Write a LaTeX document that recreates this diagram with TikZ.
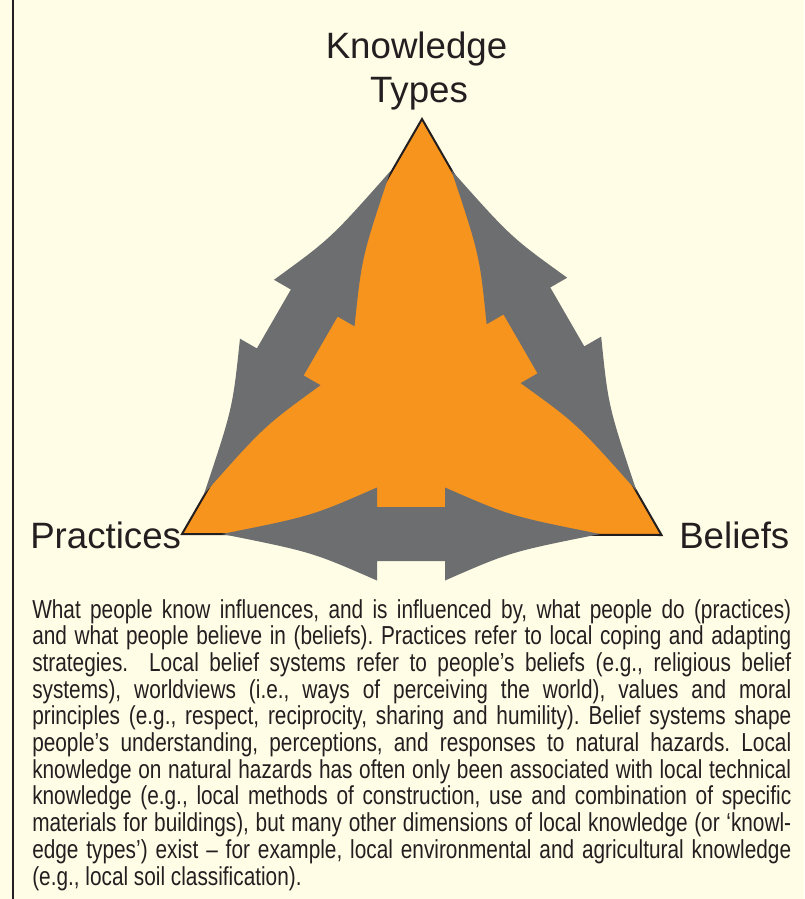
\documentclass[tikz,border=0pt]{standalone}
\usepackage{fontspec}
\setmainfont{Liberation Sans}
\newfontfamily\bodyfont[FakeStretch=0.80]{Liberation Sans}
\definecolor{bgcream}{HTML}{FFFDE6}
\definecolor{korange}{HTML}{F7941E}
\definecolor{kgray}{HTML}{6D6E70}
\definecolor{kink}{HTML}{231F20}
\newcommand{\kdblarrow}[3]{% start, angle, length
  \pgfmathsetmacro\kLh{(#3-68)/2}%
  \pgfmathsetmacro\kLc{0.58*\kLh}%
  \pgfmathsetmacro\kLs{\kLh+68}%
  \pgfmathsetmacro\kLcc{#3-0.58*\kLh}%
  \fill[arrowfill, shift={#1}, rotate=#2]
    (0,0) .. controls (\kLc,18) .. (\kLh,46.5) -- (\kLh,27) -- (\kLs,27) -- (\kLs,46.5)
    .. controls (\kLcc,18) .. (#3,0) .. controls (\kLcc,-18) .. (\kLs,-46.5)
    -- (\kLs,-27) -- (\kLh,-27) -- (\kLh,-46.5) .. controls (\kLc,-18) .. (0,0) -- cycle;
}
\tikzset{
  arrowfill/.style={fill=kgray},
  lab/.style={inner sep=0pt, text=kink, font=\fontsize{27.5}{32}\selectfont},
  bodyline/.style={inner sep=0pt, anchor=base west, text=kink, font=\bodyfont\fontsize{19.5}{21}\selectfont\frenchspacing},
  frameline/.style={draw=kink, line width=1.4pt}
}
\begin{document}
\begin{tikzpicture}[x=0.75pt,y=0.75pt]
\useasboundingbox (0,0) rectangle (804,-899);
\fill[bgcream] (0,0) rectangle (804,-899);
\draw[frameline] (13,-899) -- (13,0);

\coordinate (T) at (422,-119);
\coordinate (BL) at (182,-534);
\coordinate (BR) at (661.5,-535);
\filldraw[fill=korange, draw=kink, line width=1.5pt, line join=miter] (T) -- (BL) -- (BR) -- cycle;

\kdblarrow{(204,-494)}{60}{373}
\kdblarrow{(451.4,-170.2)}{-60}{370}
\kdblarrow{(222,-534)}{0}{378}

\node[lab, anchor=base] (kt1) at (416.5,-58.5) {Knowledge};
\node[lab, anchor=base] (kt2) at (419,-103) {Types};
\node[lab, anchor=base west] (pr) at (30,-548) {Practices};
\node[lab, anchor=base west] (be) at (679,-548) {Beliefs};

\node[bodyline] (l1) at (32,-618) {\makebox[569.25pt][s]{What people know influences, and is influenced by, what people do (practices)}};
\node[bodyline] (l2) at (32,-644.7) {\makebox[569.25pt][s]{and what people believe in (beliefs). Practices refer to local coping and adapting}};
\node[bodyline] (l3) at (32,-671.4) {\makebox[569.25pt][s]{strategies.~~Local belief systems refer to people’s beliefs (e.g., religious belief}};
\node[bodyline] (l4) at (32,-698.1) {\makebox[569.25pt][s]{systems), worldviews (i.e., ways of perceiving the world), values and moral}};
\node[bodyline] (l5) at (32,-724.8) {\makebox[569.25pt][s]{principles (e.g., respect, reciprocity, sharing and humility). Belief systems shape}};
\node[bodyline] (l6) at (32,-751.5) {\makebox[569.25pt][s]{people’s understanding, perceptions, and responses to natural hazards. Local}};
\node[bodyline] (l7) at (32,-778.2) {\makebox[569.25pt][s]{knowledge on natural hazards has often only been associated with local technical}};
\node[bodyline] (l8) at (32,-804.9) {\makebox[569.25pt][s]{knowledge (e.g., local methods of construction, use and combination of specific}};
\node[bodyline] (l9) at (32,-831.6) {\makebox[569.25pt][s]{materials for buildings), but many other dimensions of local knowledge (or ‘knowl-}};
\node[bodyline] (l10) at (32,-858.3) {\makebox[569.25pt][s]{edge types’) exist – for example, local environmental and agricultural knowledge}};
\node[bodyline] (l11) at (32,-885) {(e.g., local soil classification).};
\end{tikzpicture}
\end{document}
